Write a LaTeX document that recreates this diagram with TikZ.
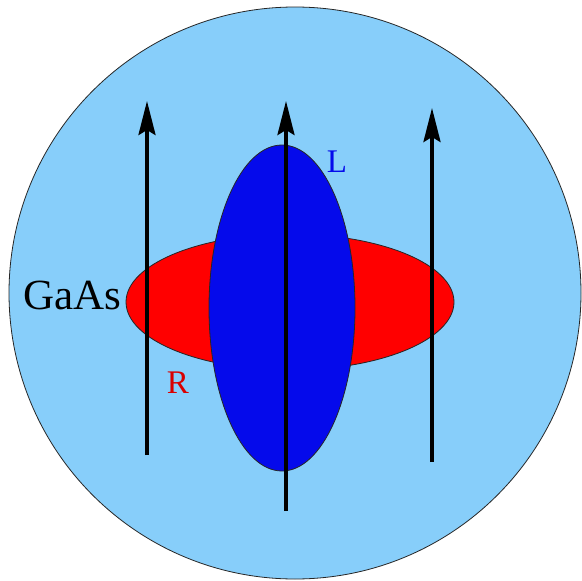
\documentclass[tikz,border=0pt]{standalone}
\usepackage{fontspec}
\setmainfont{Liberation Serif}
\usetikzlibrary{arrows.meta}
\definecolor{gaasblue}{RGB}{135,206,250}
\definecolor{dotred}{RGB}{255,0,0}
\definecolor{dotblue}{RGB}{5,10,235}
\tikzset{
  dotshape/.style={draw=black!85, line width=0.8pt},
  field/.style={-{Stealth[length=34pt,width=17pt,inset=5pt]}, line width=3.5pt, black},
  lab/.style={inner sep=0pt, font=\fontsize{33}{33}\selectfont}
}

\begin{document}
\begin{tikzpicture}[x=1pt,y=-1pt]
\useasboundingbox (0,0) rectangle (582,581);
\fill[white] (0,0) rectangle (582,581);
% sample and the two dots
\filldraw[dotshape, fill=gaasblue] (295,293) circle (286pt);
\filldraw[dotshape, fill=dotred] (290,302) ellipse [x radius=164pt, y radius=68pt];
\filldraw[dotshape, fill=dotblue] (282,308) ellipse [x radius=73pt, y radius=163pt];
% field lines
\coordinate (lbot) at (147,455);
\coordinate (ltop) at (147,101);
\coordinate (mbot) at (286,511);
\coordinate (mtop) at (286,101);
\coordinate (rbot) at (432,462);
\coordinate (rtop) at (432,108);
\draw[field] (lbot) -- (ltop);
\draw[field] (mbot) -- (mtop);
\draw[field] (rbot) -- (rtop);
% labels
\node[lab, text=dotblue] (labL) at (337,162) {L};
\node[lab, text=red!85!black] (labR) at (178,383) {R};
\node[lab, font=\fontsize{43}{43}\selectfont] (gaas) at (72,295) {GaAs};
\end{tikzpicture}
\end{document}
